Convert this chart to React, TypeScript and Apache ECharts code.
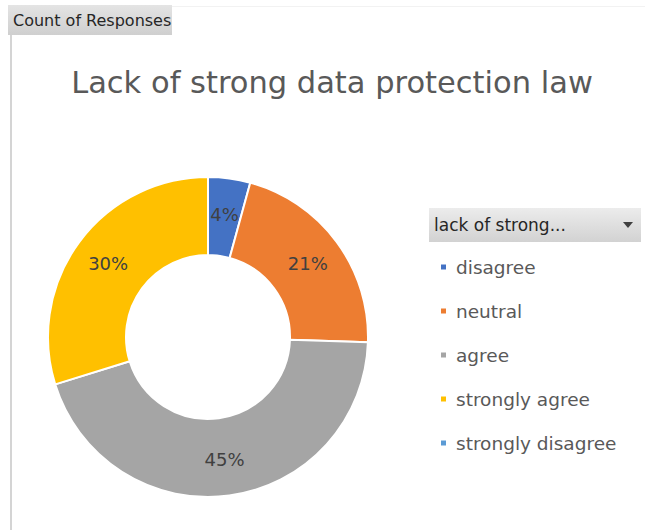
import React, { useEffect, useRef } from "react";
import * as echarts from "echarts";

const categories = ["disagree", "neutral", "agree", "strongly agree", "strongly disagree"];
const counts = [2, 10, 21, 14, 0];
const colors = ["#4472C4", "#ED7D31", "#A5A5A5", "#FFC000", "#5B9BD5"];
const titleText = "Lack of strong data protection law";
const fieldButton = "Count of Responses";
const legendButton = "lack of strong...";

const FONT = "'DejaVu Sans', 'Open Sans', sans-serif";

export default function App() {
  const ref = useRef<HTMLDivElement>(null);
  useEffect(() => {
    if (!ref.current) return;
    const chart = echarts.init(ref.current, undefined, { renderer: "svg" });
    const data = categories.map((c, i) => ({ name: c, value: counts[i], itemStyle: { color: colors[i] } }));
    chart.setOption({
      animation: false,
      backgroundColor: "#ffffff",
      title: {
        text: titleText,
        left: 327,
        textAlign: "center",
        top: 62,
        textStyle: { fontFamily: FONT, fontSize: 30.5, fontWeight: "normal", color: "#595959" },
      },
      legend: {
        orient: "vertical",
        left: 434,
        top: 252,
        icon: "rect",
        itemWidth: 7,
        itemHeight: 7,
        itemGap: 24,
        textStyle: { fontFamily: FONT, fontSize: 18.5, color: "#595959", lineHeight: 20, padding: [0, 0, 0, 4] },
        data: categories,
      },
      graphic: [
        { type: "rect", shape: { x: 10, y: 34, width: 2, height: 500 }, style: { fill: "#d4d4d4" } },
        { type: "rect", shape: { x: 10, y: 6, width: 640, height: 1 }, style: { fill: "#f2f2f2" } },
        {
          type: "rect",
          shape: { x: 8, y: 5, width: 164, height: 30 },
          style: {
            fill: new echarts.graphic.LinearGradient(0, 0, 0, 1, [
              { offset: 0, color: "#e4e4e4" },
              { offset: 1, color: "#cfcfcf" },
            ]),
          },
        },
        {
          type: "text",
          x: 13,
          y: 20,
          style: { text: fieldButton, fontFamily: FONT, fontSize: 16, fill: "#262626", verticalAlign: "middle" },
        },
        {
          type: "rect",
          shape: { x: 429, y: 208, width: 212, height: 34 },
          style: {
            fill: new echarts.graphic.LinearGradient(0, 0, 0, 1, [
              { offset: 0, color: "#ececec" },
              { offset: 1, color: "#d2d2d2" },
            ]),
          },
        },
        {
          type: "text",
          x: 434,
          y: 225,
          style: { text: legendButton, fontFamily: FONT, fontSize: 17, fill: "#262626", verticalAlign: "middle" },
        },
        {
          type: "polygon",
          shape: { points: [[623, 222], [633, 222], [628, 228]] },
          style: { fill: "#404040" },
        },
      ],
      series: [
        {
          type: "pie",
          center: [208, 337],
          radius: [82, 160],
          startAngle: 90,
          clockwise: true,
          avoidLabelOverlap: false,
          itemStyle: { borderColor: "#ffffff", borderWidth: 2 },
          label: {
            show: true,
            position: "inside",
            fontFamily: FONT,
            fontSize: 18,
            color: "#404040",
            formatter: (p: any) => (p.value > 0 ? Math.round(p.percent) + "%" : ""),
          },
          labelLine: { show: false },
          emphasis: { disabled: true },
          data,
        },
      ],
    });
    return () => chart.dispose();
  }, []);
  return <div ref={ref} style={{ position: "fixed", left: 0, top: 0, width: 645, height: 530 }} />;
}
